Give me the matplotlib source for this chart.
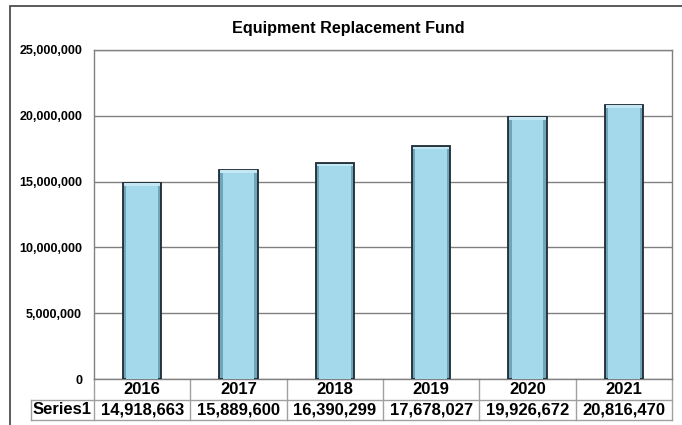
import matplotlib.pyplot as plt
from matplotlib.patches import Rectangle
from matplotlib.ticker import FuncFormatter
import matplotlib.transforms as mtransforms

years = ['2016', '2017', '2018', '2019', '2020', '2021']
values = [14918663, 15889600, 16390299, 17678027, 19926672, 20816470]
series_name = 'Series1'

plt.rcParams['font.family'] = ['Liberation Sans', 'DejaVu Sans']
plt.rcParams['font.weight'] = 'bold'

W, H = 682, 425
fig = plt.figure(figsize=(W / 100, H / 100), dpi=100)
ax = fig.add_axes([94 / W, 1 - 379 / H, (672 - 94) / W, (379 - 50) / H])

x = list(range(len(years)))
bw = 0.4
# outer bar with dark outline, then lighter inner face for the bevel look
ax.bar(x, values, width=bw, color='#6fa6b8', edgecolor='#1e2a36', linewidth=1.3, zorder=3)
inset_x = 0.035
inset_y = 230000
ax.bar(x, [v - inset_y for v in values], width=bw - 2 * inset_x, color='#a3d9eb',
       linewidth=0, zorder=4)
# top highlight
for xi, v in zip(x, values):
    ax.add_patch(Rectangle((xi - bw / 2 + 0.01, v - inset_y), bw - 0.02, inset_y * 0.9,
                           facecolor='#c4e8f3', linewidth=0, zorder=4))

ax.set_xlim(-0.5, len(years) - 0.5)
ax.set_ylim(0, 25000000)
ax.set_yticks(range(0, 25000001, 5000000))
ax.yaxis.set_major_formatter(FuncFormatter(lambda v, p: f'{int(v):,}'))
ax.tick_params(axis='y', length=0, pad=8.6, labelsize=9)
ax.set_xticks([])
ax.grid(axis='y', color='#808080', linewidth=1.0, zorder=1)
for s in ax.spines.values():
    s.set_color('#808080')
    s.set_linewidth(1.0)

fig.text(348 / W, 1 - 28 / H, 'Equipment Replacement Fund', ha='center', va='center',
         fontsize=11.6, fontweight='bold')

# data table below the axes
trans = mtransforms.blended_transform_factory(ax.transData, ax.transAxes)
row_h = 20.5 / (379 - 50)
grid_c = '#a0a0a0'
left_edge = -0.5 - (94 - 31) / ((672 - 94) / len(years))
ax.plot([-0.5, len(years) - 0.5], [-row_h, -row_h], transform=trans, color=grid_c,
        lw=1, clip_on=False)
ax.plot([left_edge, len(years) - 0.5], [-2 * row_h, -2 * row_h], transform=trans,
        color=grid_c, lw=1, clip_on=False)
ax.plot([left_edge, -0.5], [-row_h, -row_h], transform=trans, color=grid_c, lw=1,
        clip_on=False)
ax.plot([left_edge, left_edge], [-row_h, -2 * row_h], transform=trans, color=grid_c,
        lw=1, clip_on=False)
for i in range(len(years) + 1):
    ax.plot([i - 0.5, i - 0.5], [0, -2 * row_h], transform=trans, color=grid_c, lw=1,
            clip_on=False)
for xi, yr, v in zip(x, years, values):
    ax.text(xi, -0.5 * row_h, yr, transform=trans, ha='center', va='center',
            fontsize=12, fontweight='bold')
    ax.text(xi, -1.5 * row_h, f'{v:,}', transform=trans, ha='center', va='center',
            fontsize=12, fontweight='bold')
ax.text((left_edge - 0.5) / 2, -1.5 * row_h, series_name, transform=trans, ha='center',
        va='center', fontsize=12, fontweight='bold')

# chart frame
fig.patches.append(Rectangle((10 / W, -0.1), 1.2, 1 - 6 / H + 0.1,
                             transform=fig.transFigure, fill=False,
                             edgecolor='#404040', linewidth=1.2))

fig.savefig('out.png', dpi=100)
